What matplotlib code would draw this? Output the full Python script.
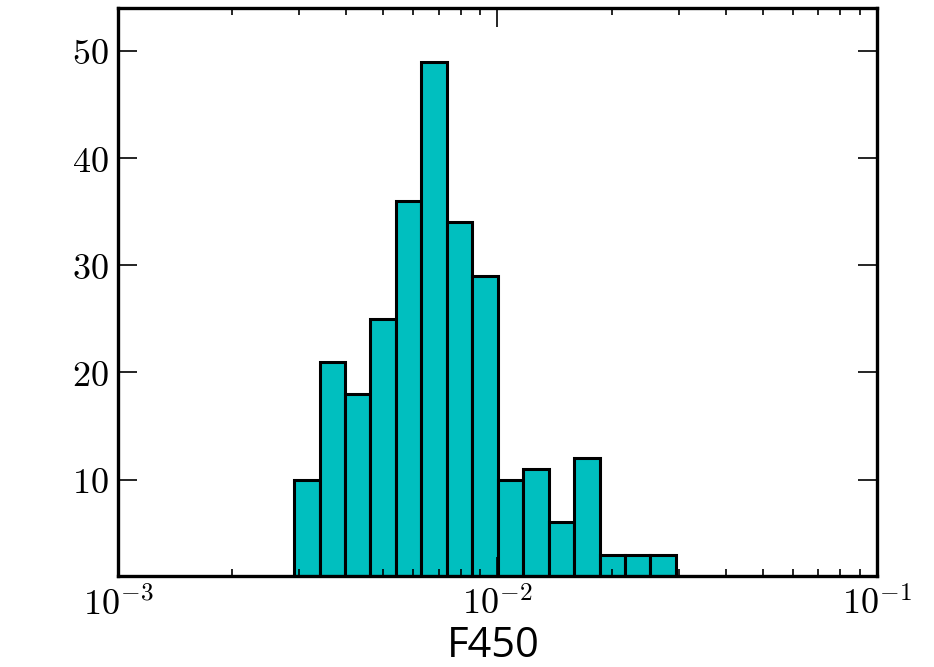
import numpy as np
import matplotlib
matplotlib.use("Agg")
import matplotlib.pyplot as plt
from matplotlib.ticker import FixedLocator, FuncFormatter

# histogram counts, log-spaced bins
bin_lo = -2.536   # log10 of first bin edge
bin_hi = -1.530   # log10 of last bin edge
counts = [10, 21, 18, 25, 36, 49, 34, 29, 10, 11, 6, 12, 3, 3, 3]
y_ticks = [10, 20, 30, 40, 50]
x_ticks = [1e-3, 1e-2, 1e-1]

plt.rcParams['mathtext.fontset'] = 'cm'

edges = np.logspace(bin_lo, bin_hi, len(counts) + 1)

fig = plt.figure(figsize=(9.34, 6.67), dpi=100)
ax = fig.add_axes([0.1263, 0.1364, 0.8127, 0.8516])

ax.bar(edges[:-1], counts, width=np.diff(edges), align='edge',
       color='c', edgecolor='black', linewidth=2.2)

ax.set_xscale('log')
ax.set_xlim(1e-3, 1e-1)
ax.set_ylim(1, 54)
ax.xaxis.set_major_locator(FixedLocator(x_ticks))
ax.xaxis.set_major_formatter(FuncFormatter(
    lambda v, p: r'$10^{%d}$' % round(np.log10(v))))
ax.yaxis.set_major_locator(FixedLocator(y_ticks))
ax.yaxis.set_major_formatter(FuncFormatter(lambda v, p: r'$%d$' % v))

ax.tick_params(which='both', direction='in', top=True, right=True,
               labelsize=26)
ax.tick_params(axis='x', pad=8)
ax.tick_params(axis='y', pad=7)
ax.tick_params(which='major', length=14, width=1.2)
ax.tick_params(which='minor', length=5, width=1.2)
ax.tick_params(axis='y', which='minor', left=False, right=False)

for s in ax.spines.values():
    s.set_linewidth(2.4)

fig.text(0.528, 0.0, 'F450', ha='center', va='bottom',
         fontsize=30, family='Open Sans')

fig.savefig('out.png', dpi=100)
